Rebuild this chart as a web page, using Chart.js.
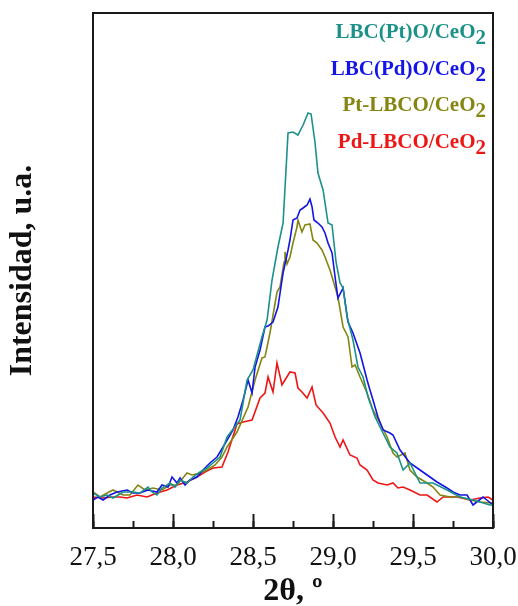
<!DOCTYPE html>
<html>
<head>
<meta charset="utf-8">
<script src="https://cdn.jsdelivr.net/npm/chart.js@4"></script>
<style>
  body { margin: 0; background: #fff; }
</style>
</head>
<body>
<canvas id="xrdChart" width="518" height="606"></canvas>
<script>
// series names, same order as the datasets below
const seriesNames = ["LBC(Pt)O/CeO₂", "LBC(Pd)O/CeO₂", "Pt-LBCO/CeO₂", "Pd-LBCO/CeO₂"];

// LBC(Pt)O/CeO2
const thetaPtO = [27.500, 27.544, 27.588, 27.625, 27.688, 27.750, 27.794, 27.844, 27.869, 27.900, 27.931, 27.981, 28.013, 28.044, 28.088, 28.125, 28.169, 28.213, 28.250, 28.294, 28.338, 28.419, 28.463, 28.500, 28.556, 28.588, 28.619, 28.656, 28.688, 28.719, 28.750, 28.781, 28.813, 28.844, 28.863, 28.888, 28.906, 28.938, 28.969, 28.994, 29.019, 29.044, 29.063, 29.088, 29.125, 29.156, 29.188, 29.219, 29.263, 29.294, 29.356, 29.400, 29.438, 29.481, 29.544, 29.625, 29.713, 29.794, 29.875, 29.981, 30.000];
const intPtO = [35, 31, 33, 30, 36, 36, 35, 41, 36, 33, 40, 45, 41, 48, 45, 51, 56, 60, 65, 71, 91, 108, 148, 158, 191, 208, 248, 281, 305, 395, 396, 393, 403, 415, 414, 385, 355, 338, 305, 303, 266, 245, 240, 211, 188, 161, 151, 131, 111, 101, 81, 75, 58, 65, 45, 45, 38, 31, 28, 23, 23];

// LBC(Pd)O/CeO2
const thetaPdO = [27.500, 27.531, 27.563, 27.606, 27.650, 27.713, 27.750, 27.794, 27.844, 27.900, 27.931, 27.969, 27.994, 28.025, 28.044, 28.075, 28.106, 28.150, 28.188, 28.231, 28.275, 28.313, 28.375, 28.406, 28.438, 28.469, 28.494, 28.513, 28.544, 28.575, 28.594, 28.625, 28.656, 28.688, 28.719, 28.731, 28.750, 28.775, 28.794, 28.813, 28.838, 28.856, 28.869, 28.881, 28.906, 28.931, 28.950, 28.969, 28.994, 29.013, 29.031, 29.063, 29.094, 29.125, 29.169, 29.213, 29.231, 29.250, 29.281, 29.313, 29.356, 29.375, 29.419, 29.481, 29.544, 29.606, 29.650, 29.713, 29.750, 29.794, 29.838, 29.875, 29.938, 30.000];
const intPdO = [28, 31, 28, 33, 36, 38, 35, 35, 38, 36, 43, 41, 51, 45, 50, 43, 48, 51, 58, 65, 71, 81, 98, 111, 128, 148, 135, 161, 178, 201, 202, 206, 221, 255, 278, 288, 308, 310, 318, 320, 323, 329, 321, 308, 305, 301, 295, 285, 275, 251, 230, 240, 206, 195, 175, 148, 138, 128, 111, 98, 95, 93, 78, 65, 58, 51, 46, 40, 36, 33, 33, 23, 31, 23];

// Pt-LBCO/CeO2
const thetaPtLBCO = [27.500, 27.544, 27.588, 27.625, 27.688, 27.731, 27.781, 27.825, 27.875, 27.931, 27.981, 28.025, 28.088, 28.119, 28.169, 28.213, 28.263, 28.306, 28.338, 28.400, 28.469, 28.513, 28.556, 28.575, 28.606, 28.650, 28.669, 28.694, 28.700, 28.713, 28.731, 28.750, 28.775, 28.781, 28.806, 28.825, 28.856, 28.875, 28.900, 28.931, 28.950, 28.981, 29.000, 29.031, 29.063, 29.094, 29.119, 29.138, 29.169, 29.213, 29.250, 29.294, 29.338, 29.375, 29.400, 29.450, 29.481, 29.525, 29.588, 29.625, 29.669, 29.731, 29.794, 29.856, 29.919, 29.994];
const intPtLBCO = [36, 31, 35, 38, 33, 33, 43, 38, 40, 38, 43, 43, 55, 53, 55, 58, 63, 71, 81, 96, 121, 148, 170, 171, 195, 236, 241, 266, 276, 264, 271, 285, 301, 308, 296, 303, 304, 288, 285, 278, 271, 258, 248, 231, 201, 191, 161, 163, 151, 135, 118, 105, 91, 75, 71, 75, 58, 51, 45, 41, 33, 31, 31, 28, 26, 25];

// Pd-LBCO/CeO2
const thetaPdLBCO = [27.500, 27.563, 27.625, 27.669, 27.713, 27.775, 27.838, 27.900, 27.963, 28.025, 28.088, 28.150, 28.200, 28.250, 28.306, 28.344, 28.400, 28.438, 28.494, 28.544, 28.575, 28.594, 28.625, 28.650, 28.681, 28.731, 28.763, 28.781, 28.806, 28.838, 28.869, 28.894, 28.938, 28.981, 29.013, 29.044, 29.063, 29.106, 29.150, 29.169, 29.213, 29.250, 29.281, 29.338, 29.375, 29.406, 29.438, 29.481, 29.544, 29.588, 29.650, 29.688, 29.775, 29.856, 29.919, 29.969, 30.000];
const intPdLBCO = [31, 30, 31, 31, 30, 33, 31, 35, 38, 43, 46, 51, 56, 60, 61, 76, 104, 106, 108, 130, 135, 151, 136, 165, 143, 156, 155, 140, 136, 130, 141, 123, 115, 105, 91, 81, 88, 73, 70, 63, 58, 48, 45, 43, 45, 40, 41, 38, 33, 33, 26, 31, 31, 28, 30, 31, 28];

function toPoints(xs, ys) {
    return xs.map((x, i) => ({ x: x, y: ys[i] }));
}

const serif = "'Liberation Serif', 'Times New Roman', serif";

// box round the plot area
const framePlugin = {
    id: "frame",
    afterDraw(chart) {
        const { ctx, chartArea } = chart;
        ctx.save();
        ctx.strokeStyle = "#1a1a1a";
        ctx.lineWidth = 2;
        ctx.strokeRect(chartArea.left, chartArea.top, chartArea.right - chartArea.left, chartArea.bottom - chartArea.top);
        ctx.restore();
    }
};

// coloured text legend, right aligned, with the "2" set low
const textLegend = {
    id: "textLegend",
    afterDraw(chart) {
        const ctx = chart.ctx;
        const right = 486;
        ctx.save();
        ctx.font = "bold 21px " + serif;
        ctx.textBaseline = "alphabetic";
        ctx.textAlign = "left";
        chart.data.datasets.forEach((ds, i) => {
            const parts = ds.label.split("₂");
            const main = parts[0];
            const sub = "2";
            const wSub = ctx.measureText(sub).width;
            const wMain = ctx.measureText(main).width;
            const y = 38 + i * 36.6;
            ctx.fillStyle = ds.borderColor;
            ctx.fillText(main, right - wSub - wMain, y);
            ctx.fillText(sub, right - wSub, y + 6);
        });
        ctx.restore();
    }
};

// fixed axis sizes so the plot box lands where it should
function fixHeight(h) {
    return scale => {
        scale.height = h;
        scale.paddingLeft = 0;
        scale.paddingRight = 0;
    };
}

const ctx = document.getElementById("xrdChart").getContext("2d");
new Chart(ctx, {
    type: "line",
    data: {
        datasets: [
            { label: seriesNames[0], data: toPoints(thetaPtO, intPtO), borderColor: "#1b918a" },
            { label: seriesNames[1], data: toPoints(thetaPdO, intPdO), borderColor: "#1414e6" },
            { label: seriesNames[2], data: toPoints(thetaPtLBCO, intPtLBCO), borderColor: "#858512" },
            { label: seriesNames[3], data: toPoints(thetaPdLBCO, intPdLBCO), borderColor: "#ee1515" }
        ].map(ds => Object.assign(ds, { borderWidth: 1.6, pointRadius: 0, tension: 0, fill: false }))
    },
    options: {
        responsive: false,
        animation: false,
        layout: { padding: { left: 0, right: 25, top: 13, bottom: 0 } },
        plugins: {
            legend: { display: false },
            tooltip: { enabled: false }
        },
        scales: {
            x: {
                type: "linear",
                position: "bottom",
                min: 27.5,
                max: 30,
                border: { display: false },
                grid: { drawOnChartArea: false, tickLength: -14, tickColor: "#1a1a1a", tickWidth: 2 },
                ticks: {
                    stepSize: 0.5,
                    padding: 28,
                    color: "#111",
                    font: { family: serif, size: 27 },
                    callback: v => v.toFixed(1).replace(".", ",")
                },
                title: {
                    display: true,
                    text: "2θ, º",
                    color: "#111",
                    font: { family: serif, size: 32, weight: "bold", lineHeight: 0.8 },
                    padding: { top: 0, bottom: 1 }
                },
                afterFit: fixHeight(78)
            },
            xMinor: {
                type: "linear",
                position: "bottom",
                weight: -1,
                min: 27.5,
                max: 30,
                border: { display: false },
                grid: { drawOnChartArea: false, tickLength: -7, tickColor: "#1a1a1a", tickWidth: 2 },
                ticks: { stepSize: 0.25, display: false },
                afterFit: fixHeight(0)
            },
            y: {
                min: 0,
                max: 515,
                border: { display: false },
                grid: { display: false },
                ticks: { display: false },
                title: {
                    display: true,
                    text: "Intensidad, u.a.",
                    color: "#111",
                    font: { family: serif, size: 32, weight: "bold" },
                    padding: { top: 4, bottom: 0 }
                },
                afterFit: scale => {
                    scale.width = 93;
                    scale.paddingTop = 0;
                    scale.paddingBottom = 0;
                }
            }
        }
    },
    plugins: [framePlugin, textLegend]
});
</script>
</body>
</html>
